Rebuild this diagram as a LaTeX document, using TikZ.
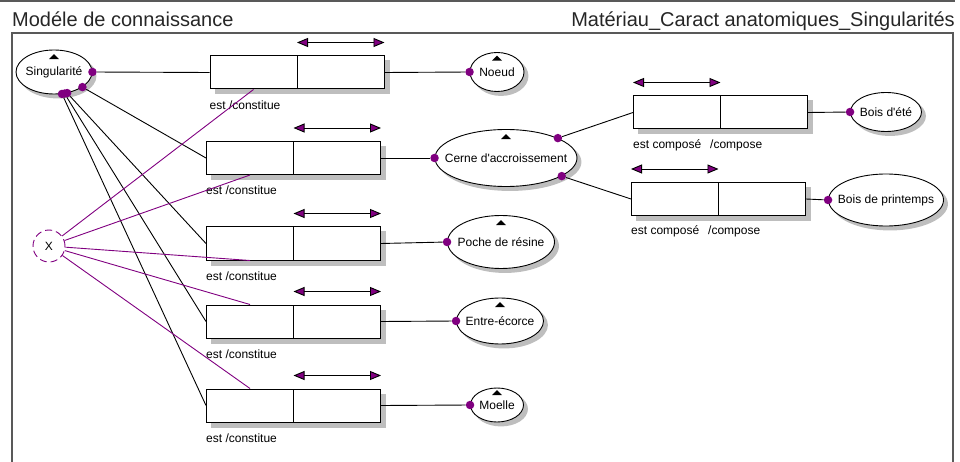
\documentclass[tikz,border=0pt]{standalone}
\usepackage{fontspec}
\setmainfont{Liberation Sans}
\usetikzlibrary{shapes.geometric,arrows.meta,calc}
\definecolor{purp}{RGB}{128,0,128}
\definecolor{shadowgray}{RGB}{190,190,190}
\pgfdeclarelayer{back}
\pgfsetlayers{back,main}

\begin{document}
\begin{tikzpicture}[
        x=1pt, y=-1pt,
        ent/.style={
            ellipse,
            draw=black,
            line width=0.9pt,
            fill=white,
            inner sep=0pt,
            font=\fontsize{12}{14}\selectfont
        },
        rel/.style={
            rectangle,
            draw=black,
            line width=1pt,
            fill=white,
            minimum width=174pt,
            minimum height=33pt,
            inner sep=0pt,
            path picture={\draw[line width=1pt] (path picture bounding box.north) -- (path picture bounding box.south);}
        },
        lbl/.style={anchor=base west, inner sep=0pt, font=\fontsize{12}{14}\selectfont},
        dot/.style={circle, fill=purp, inner sep=0pt, minimum size=8.5pt},
        link/.style={draw=black, line width=0.9pt},
        xlink/.style={draw=purp, line width=0.9pt},
        biarrow/.style={{Triangle[length=11pt,width=9pt,fill=purp]}-{Triangle[length=11pt,width=9pt,fill=purp]}, line width=0.9pt, draw=black},
        title/.style={inner sep=0pt, font=\fontsize{20}{24}\selectfont, text=black!85},
        frame/.style={draw=black!65, line width=1.5pt}
    ]

    \useasboundingbox (0,0) rectangle (960,462);

    \draw[frame] (0,1) -- (955,1);
    \draw[frame] (12,462) -- (12,33) -- (953,33) -- (953,462);

    \node[title, anchor=base west] (model) at (12,27) {Modéle de connaissance};
    \node[title, anchor=base east] (subject) at (955,27) {Matériau\_Caract anatomiques\_Singularités};

    \node[ent, minimum width=76pt, minimum height=44pt] (sing) at (54,72) {\makebox[0pt]{Singularité}};
    \node[ent, minimum width=54pt, minimum height=39pt] (noeud) at (497,72) {\makebox[0pt]{Noeud}};
    \node[ent, minimum width=142pt, minimum height=57pt] (cerne) at (506,158) {\makebox[0pt]{Cerne d\textquotesingle accroissement}};
    \node[ent, minimum width=107pt, minimum height=53pt] (poche) at (501,242) {\makebox[0pt]{Poche de résine}};
    \node[ent, minimum width=87pt, minimum height=46pt] (entre) at (500,321) {\makebox[0pt]{Entre-écorce}};
    \node[ent, minimum width=53pt, minimum height=34pt] (moelle) at (497,405) {\makebox[0pt]{Moelle}};
    \node[ent, minimum width=71pt, minimum height=39pt] (ete) at (886,112) {\makebox[0pt]{Bois d\textquotesingle été}};
    \node[ent, minimum width=115pt, minimum height=52pt] (printemps) at (886,200) {\makebox[0pt]{Bois de printemps}};

    \node[rel] (r1) at (297,72.5) {};
    \node[rel] (r2) at (293.5,158) {};
    \node[rel] (r3) at (293.5,243.5) {};
    \node[rel] (r4) at (293.5,321.5) {};
    \node[rel] (r5) at (293.5,405.5) {};
    \node[rel] (r6) at (720.5,112.5) {};
    \node[rel] (r7) at (718.5,199) {};

    \begin{pgfonlayer}{back}
        \foreach \e in {r1,r2,r3,r4,r5,r6,r7}
            \fill[shadowgray] ([shift={(5pt,-5pt)}]\e.south west) rectangle ([shift={(5pt,-5pt)}]\e.north east);
        \foreach \e in {sing,noeud,cerne,poche,entre,moelle,ete,printemps}
            \fill[shadowgray] let \p1=(\e.east), \p2=(\e.north), \p3=(\e.center) in
                ([shift={(4pt,-4pt)}]\e.center) ellipse ({\x1-\x3} and {\y2-\y3});
    \end{pgfonlayer}

    \node[lbl] (l1) at ([yshift=-20pt]r1.south west) {est /constitue};
    \node[lbl] (l2) at ([yshift=-20pt]r2.south west) {est /constitue};
    \node[lbl] (l3) at ([yshift=-20pt]r3.south west) {est /constitue};
    \node[lbl] (l4) at ([yshift=-20pt]r4.south west) {est /constitue};
    \node[lbl] (l5) at ([yshift=-20pt]r5.south west) {est /constitue};
    \node[lbl] (l6) at ([yshift=-19pt]r6.south west) {est composé\hspace{9pt}/compose};
    \node[lbl] (l7) at ([yshift=-19pt]r7.south west) {est composé\hspace{9pt}/compose};

    \draw[biarrow] ([yshift=13pt]r1.north) -- ([yshift=13pt]r1.north east);
    \draw[biarrow] ([yshift=13pt]r2.north) -- ([yshift=13pt]r2.north east);
    \draw[biarrow] ([yshift=13pt]r3.north) -- ([yshift=13pt]r3.north east);
    \draw[biarrow] ([yshift=13pt]r4.north) -- ([yshift=13pt]r4.north east);
    \draw[biarrow] ([yshift=13pt]r5.north) -- ([yshift=13pt]r5.north east);
    \draw[biarrow] ([yshift=13pt]r6.north west) -- ([yshift=13pt]r6.north);
    \draw[biarrow] ([yshift=13pt]r7.north west) -- ([yshift=13pt]r7.north);

    \node[dot] (s1) at (sing.east) {};
    \node[dot] (s2) at (sing.-28) {};
    \node[dot] (s3) at (sing.-58) {};
    \node[dot] (s4) at (sing.-64) {};
    \node[dot] (s5) at (sing.-70) {};
    \node[dot] (n1) at (noeud.west) {};
    \node[dot] (c1) at (cerne.west) {};
    \node[dot] (c2) at (cerne.21) {};
    \node[dot] (c3) at (cerne.-18) {};
    \node[dot] (p1) at (poche.west) {};
    \node[dot] (e1) at (entre.west) {};
    \node[dot] (m1) at (moelle.west) {};
    \node[dot] (b1) at (ete.west) {};
    \node[dot] (b2) at (printemps.west) {};

    \node[circle, draw=purp, line width=0.9pt, dash pattern=on 7pt off 4pt, minimum size=32pt, inner sep=0pt, font=\fontsize{12}{14}\selectfont] (x) at (49,246) {X};

    \draw[link] (s1) -- (r1.west);
    \draw[link] (s2) -- (r2.west);
    \draw[link] (s3) -- (r3.west);
    \draw[link] (s4) -- (r4.west);
    \draw[link] (s5) -- (r5.west);
    \draw[link] (r1.east) -- (n1);
    \draw[link] (r2.east) -- (c1);
    \draw[link] (r3.east) -- (p1);
    \draw[link] (r4.east) -- (e1);
    \draw[link] (r5.east) -- (m1);
    \draw[link] (c2) -- (r6.west);
    \draw[link] (c3) -- (r7.west);
    \draw[link] (r6.east) -- (b1);
    \draw[link] (r7.east) -- (b2);

    \draw[xlink] (x) -- ([xshift=-43.5pt]r1.south);
    \draw[xlink] (x) -- ([xshift=-43.5pt]r2.south);
    \draw[xlink] (x) -- ([xshift=-43.5pt]r3.south);
    \draw[xlink] (x) -- ([xshift=-43.5pt]r4.north);
    \draw[xlink] (x) -- ([xshift=-43.5pt]r5.north);

    \foreach \e/\d in {sing/4.5, noeud/3.5, cerne/5, poche/5, entre/4.5, moelle/2.5}
        \fill (\e.north) ++(0,\d) -- ++(5,5) -- ++(-10,0) -- cycle;

    \end{tikzpicture}
\end{document}
